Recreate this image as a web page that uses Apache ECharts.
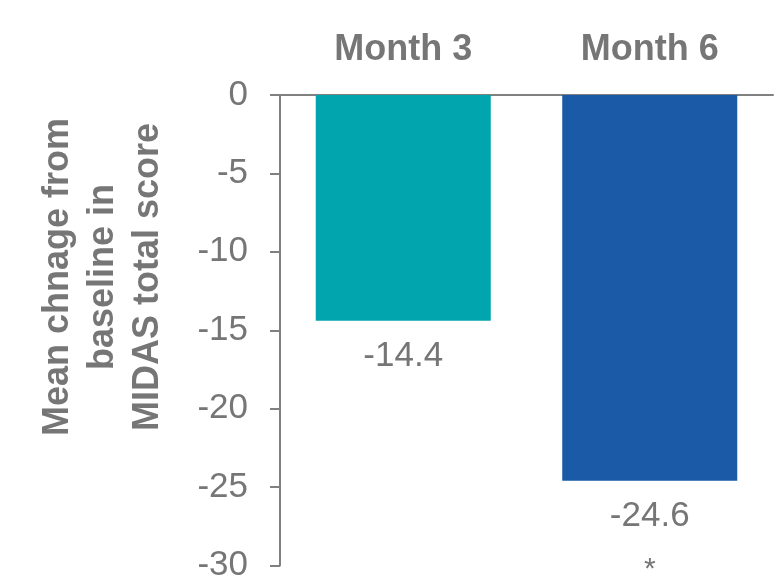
<!DOCTYPE html>
<html>
<head>
<meta charset="utf-8">
<script src="https://cdn.jsdelivr.net/npm/echarts@6/dist/echarts.min.js"></script>
<style>
  html, body { margin: 0; padding: 0; background: #fff; }
  #chart { width: 778px; height: 583px; }
</style>
</head>
<body>
<div id="chart"></div>
<script>
const categories = ['Month 3', 'Month 6'];
const values = [-14.4, -24.6];
const marks = ['', '*'];
const barColors = ['#00A5AD', '#1A5AA6'];

const grey = '#767676';
const font = '"Liberation Sans", Arial, sans-serif';

var myChart = echarts.init(document.getElementById('chart'));

var option = {
  animation: false,
  grid: { left: 280, right: 5, top: 95, bottom: 17 },
  xAxis: {
    type: 'category',
    position: 'top',
    data: categories,
    axisLine: { lineStyle: { color: '#808080', width: 2 } },
    axisTick: { show: false },
    axisLabel: {
      color: grey, fontFamily: font, fontWeight: 'bold', fontSize: 36, margin: 27
    }
  },
  yAxis: {
    type: 'value',
    min: -30,
    max: 0,
    interval: 5,
    splitLine: { show: false },
    axisLine: { show: true, lineStyle: { color: '#808080', width: 2 } },
    axisTick: { show: true, length: 10, lineStyle: { color: '#808080', width: 2 } },
    axisLabel: { color: grey, fontFamily: font, fontSize: 35, margin: 32 }
  },
  graphic: [{
    type: 'text',
    x: 103,
    y: 277,
    rotation: Math.PI / 2,
    style: {
      text: 'Mean chnage from\nbaseline in\nMIDAS total score',
      fill: grey,
      font: 'bold 36px ' + font,
      align: 'center',
      verticalAlign: 'middle',
      lineHeight: 45
    }
  }],
  series: [{
    type: 'bar',
    barWidth: '71%',
    data: values.map((v, i) => ({
      value: v,
      itemStyle: { color: barColors[i] }
    })),
    label: {
      show: true,
      position: 'bottom',
      distance: 18,
      formatter: p => {
        const m = marks[p.dataIndex];
        return m ? '{v|' + p.value + '}\n{s|' + m + '}' : '{v|' + p.value + '}';
      },
      rich: {
        v: { color: grey, fontFamily: font, fontSize: 35, lineHeight: 35 },
        s: { color: grey, fontFamily: font, fontSize: 30, lineHeight: 72 }
      }
    }
  }]
};
myChart.setOption(option);
</script>
</body>
</html>
